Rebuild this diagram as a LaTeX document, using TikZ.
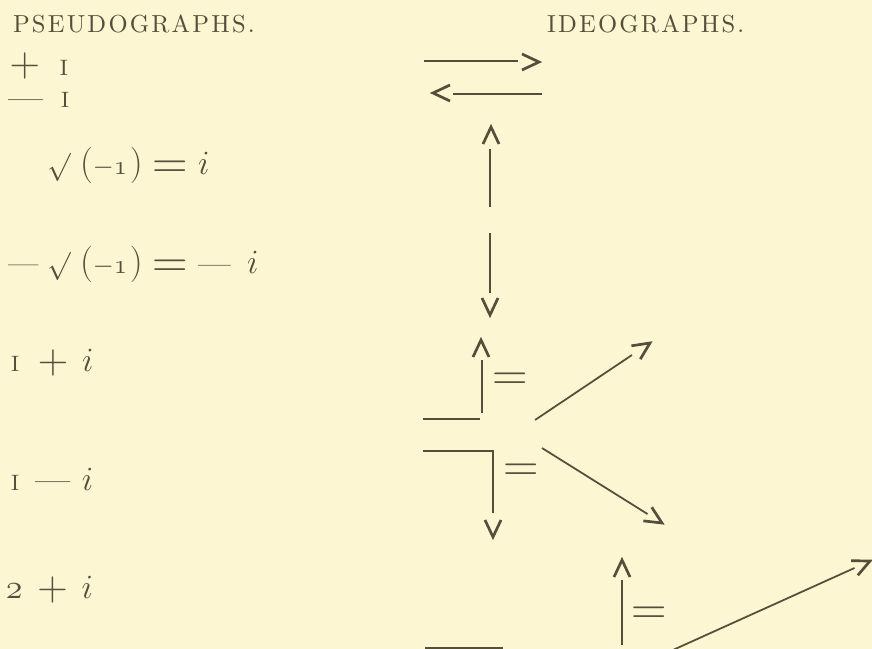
\RequirePackage{fix-cm}
\documentclass[tikz,border=0pt]{standalone}
\usepackage{fontspec}
\setmainfont{lmroman10-regular.otf}
\newfontfamily\hdrfont{lmroman10-regular.otf}[LetterSpace=9]
\definecolor{bg}{HTML}{FCF6D3}
\definecolor{ink}{HTML}{554E38}
\newcommand{\msz}{\fontsize{29}{31}\selectfont}
\newcommand{\One}{{\fontsize{19}{19}\selectfont I}}
\newcommand{\Pl}[1][-2.2pt]{\raisebox{#1}{\fontsize{36}{36}\selectfont$+$}}
\newcommand{\Eq}[1][-3.7pt]{\raisebox{#1}{\fontsize{42}{42}\selectfont$=$}}
\newcommand{\Dsh}[2]{\raisebox{#2}{\fontsize{#1}{#1}\selectfont —}}
\newcommand{\Rad}{\mbox{\fontsize{24}{24}\selectfont$\surd$}}
\newcommand{\Inner}{\mbox{\fontsize{31}{31}\selectfont$($}\mbox{\fontsize{23}{23}\selectfont$-\mathnormal{1}$}\hspace{2.4pt}\mbox{\fontsize{31}{31}\selectfont$)$}}
\newcommand{\Hdr}[1]{{\fontsize{21}{21}\hdrfont #1}}
\begin{document}
\begin{tikzpicture}[x=0.03cm,y=-0.03cm,
  txt/.style={inner sep=0pt,outer sep=0pt,text=ink,anchor=base west},
  eqs/.style={inner sep=0pt,outer sep=0pt,text=ink,anchor=base,font=\fontsize{42}{42}\selectfont},
  ln/.style={draw=ink,line width=1.5pt},
  chevstyle/.style={draw=ink,line width=2.3pt,line join=miter,line cap=butt},
  chv/.pic={\draw[chevstyle] (-17,-8) -- (0,0) -- (-17,8);}]
\fill[bg] (0,0) rectangle (872,649);
\useasboundingbox (0,0) rectangle (872,649);
% headers
\node[txt] (pseudo) at (13,33) {\Hdr{PSEUDOGRAPHS.}};
\node[txt] (ideo) at (547,33) {\Hdr{IDEOGRAPHS.}};
% pseudographs
\node[txt] (ra) at (9.7,76) {\Pl[-0.8pt]\hspace{17pt}\One};
\node[txt] (rb) at (8,108) {\Dsh{30}{-1.7pt}\hspace{15.3pt}\One};
\node[txt] (rc) at (47,174) {\msz\Rad\hspace{8.2pt}\Inner\hspace{8.2pt}\Eq\hspace{8.9pt}$i$};
\node[txt] (rd) at (8,273) {\msz\Dsh{26}{0pt}\hspace{7.3pt}\Rad\hspace{8.2pt}\Inner\hspace{8.2pt}\Eq\hspace{8.9pt}\Dsh{28}{-1pt}\hspace{13.8pt}$i$};
\node[txt] (re) at (11,371) {\msz\One\hspace{16pt}\Pl\hspace{11.9pt}$i$};
\node[txt] (rf) at (11,490) {\msz\One\hspace{13.7pt}\Dsh{30}{-1.5pt}\hspace{10pt}$i$};
\node[txt] (rg) at (6,598) {\msz$\mathnormal{2}$\hspace{12.5pt}\Pl\hspace{11.9pt}$i$};
% ideographs
\begin{scope}
\clip (0,0) rectangle (872,649);
% +1 and -1
\coordinate (h1s) at (424,61); \coordinate (h1e) at (518,61); \coordinate (h1t) at (539,62);
\draw[ln] (h1s) -- (h1e); \pic[rotate=0] at (h1t) {chv};
\coordinate (h2s) at (542,94); \coordinate (h2e) at (453,94); \coordinate (h2t) at (433,93);
\draw[ln] (h2s) -- (h2e); \pic[rotate=180] at (h2t) {chv};
% i and -i
\coordinate (v1s) at (490,207); \coordinate (v1e) at (490,149); \coordinate (v1t) at (491,127);
\draw[ln] (v1s) -- (v1e); \pic[rotate=90] at (v1t) {chv};
\coordinate (v2s) at (490,233); \coordinate (v2e) at (490,293); \coordinate (v2t) at (490,315);
\draw[ln] (v2s) -- (v2e); \pic[rotate=-90] at (v2t) {chv};
% 1+i
\coordinate (a1) at (423,419); \coordinate (a2) at (480,419);
\coordinate (a3) at (482,413); \coordinate (a4) at (482,360); \coordinate (a5) at (481,340);
\draw[ln] (a1) -- (a2); \draw[ln] (a3) -- (a4); \pic[rotate=90] at (a5) {chv};
\node[eqs] (eqa) at (510.5,390.3) {$=$};
\coordinate (d1s) at (535,420); \coordinate (d1e) at (632,355); \coordinate (d1t) at (650,343);
\draw[ln] (d1s) -- (d1e); \pic[rotate=33.8] at (d1t) {chv};
% 1-i
\coordinate (b1) at (423,451); \coordinate (b2) at (493,451); \coordinate (b3) at (493,513); \coordinate (b4) at (493,537);
\draw[ln] (b1) -- (b2) -- (b3); \pic[rotate=-90] at (b4) {chv};
\node[eqs] (eqb) at (521,481.8) {$=$};
\coordinate (d2s) at (542,448); \coordinate (d2e) at (647.5,514); \coordinate (d2t) at (662,523);
\draw[ln] (d2s) -- (d2e); \pic[rotate=-31.7] at (d2t) {chv};
% 2+i
\coordinate (c1) at (622,645); \coordinate (c2) at (622,580); \coordinate (c3) at (622,560);
\draw[ln] (c1) -- (c2); \pic[rotate=90] at (c3) {chv};
\node[eqs] (eqc) at (649.5,624.8) {$=$};
\coordinate (c4) at (425,648); \coordinate (c5) at (503,648);
\draw[ln] (c4) -- (c5);
\coordinate (d3s) at (668.5,652); \coordinate (d3e) at (854.5,568); \coordinate (d3t) at (870,561);
\draw[ln] (d3s) -- (d3e); \pic[rotate=24.3] at (d3t) {chv};
\end{scope}
\end{tikzpicture}
\end{document}
